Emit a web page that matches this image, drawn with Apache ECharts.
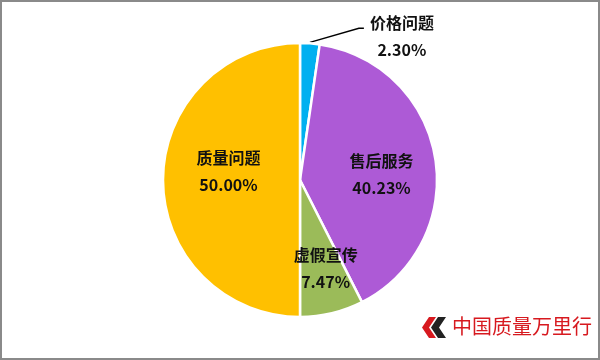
<!DOCTYPE html>
<html>
<head>
<meta charset="utf-8">
<script src="https://cdn.jsdelivr.net/npm/echarts@6/dist/echarts.min.js"></script>
<style>
html,body{margin:0;padding:0;background:#fff;}
#chart{width:600px;height:360px;}
</style>
</head>
<body>
<div id="chart"></div>
<script>
var categories = ['价格问题', '售后服务', '虚假宣传', '质量问题'];
var values = [2.30, 40.23, 7.47, 50.00];
var colors = ['#00B0F0', '#AD5AD6', '#9BBB59', '#FFC000'];
var labelShift = [[0, 0], [11, 6], [9, 19], [0, -9]];

var chart = echarts.init(document.getElementById('chart'));
var data = categories.map(function (c, i) {
  var item = { name: c, value: values[i], itemStyle: { color: colors[i] } };
  if (i === 0) {
    item.label = { position: 'outside' };
    item.labelLine = { show: true, lineStyle: { color: '#000', width: 1.5 } };
  }
  return item;
});

chart.setOption({
  animation: false,
  backgroundColor: '#fff',
  graphic: [
    { type: 'rect', shape: { x: 1, y: 1, width: 598, height: 358 }, style: { fill: 'none', stroke: '#8a8a8a', lineWidth: 2 }, z: 100 },
    { type: 'polygon', shape: { points: [[429,317],[436,317],[429,327.5],[436,338],[429,338],[422,327.5]] }, style: { fill: '#D7191F' } },
    { type: 'polygon', shape: { points: [[438,317],[446,317],[439,327.5],[446,338],[438,338],[431,327.5]] }, style: { fill: '#222' } },
    { type: 'text', left: 452, top: 316, style: { text: '中国质量万里行', fill: '#D7191F', font: '20px "Noto Sans CJK SC"' } }
  ],
  series: [{
    type: 'pie',
    center: [300, 180],
    radius: [0, 137],
    startAngle: 90,
    clockwise: true,
    data: data,
    itemStyle: { borderColor: '#fff', borderWidth: 2.5 },
    label: {
      show: true,
      position: 'inside',
      formatter: function (p) { return p.name + '\n' + p.value.toFixed(2) + '%'; },
      color: '#111',
      fontFamily: '"Noto Sans CJK SC"',
      fontWeight: 'bold',
      fontSize: 16,
      lineHeight: 27
    },
    labelLine: { show: false },
    labelLayout: function (params) {
      var i = params.dataIndex;
      if (i === 0) {
        var s = params.labelLinePoints ? params.labelLinePoints[0] : [310, 43];
        return {
          x: s[0] + 92,
          y: s[1] - 7,
          align: 'center',
          verticalAlign: 'middle',
          labelLinePoints: [[s[0], s[1] - 1], [s[0] + 49, s[1] - 15], [s[0] + 54, s[1] - 15]]
        };
      }
      return { dx: labelShift[i][0], dy: labelShift[i][1] };
    }
  }]
});
</script>
</body>
</html>
